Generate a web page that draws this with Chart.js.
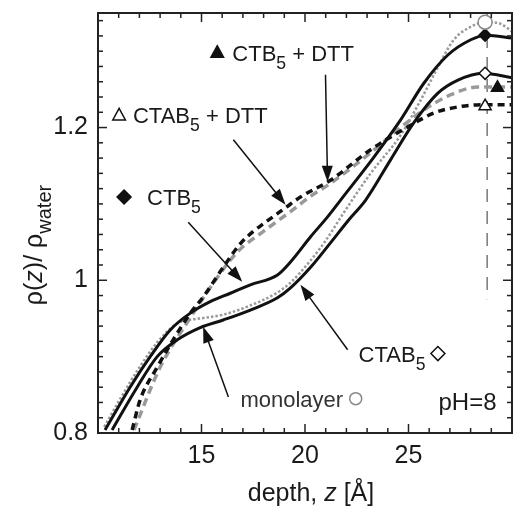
<!DOCTYPE html>
<html>
<head>
<meta charset="utf-8">
<script src="https://cdn.jsdelivr.net/npm/chart.js@4"></script>
<style>
html, body { margin: 0; padding: 0; background: #fff; }
</style>
</head>
<body>
<canvas id="grafico" width="513" height="511"></canvas>
<script>
const ctx = document.getElementById('grafico');

// perfis de densidade: z em Å, rho / rho_water
const zCTB5 = [10.34, 11.55, 12.52, 13.49, 14.46, 15.42, 16.39, 17.36, 18.67, 19.30, 20.27, 21.09, 21.72, 23.32, 24.62, 25.74, 26.90, 28.01, 28.74, 30.05];
const rhoCTB5 = [0.804, 0.860, 0.900, 0.935, 0.957, 0.972, 0.983, 0.994, 1.007, 1.024, 1.057, 1.083, 1.105, 1.161, 1.210, 1.258, 1.295, 1.315, 1.321, 1.317];

const zCTAB5 = [10.68, 11.89, 12.86, 13.83, 14.94, 16.05, 17.36, 18.67, 19.30, 20.27, 21.23, 22.11, 22.93, 24.14, 25.25, 26.42, 27.39, 28.60, 30.05];
const rhoCTAB5 = [0.804, 0.860, 0.900, 0.922, 0.938, 0.948, 0.961, 0.977, 0.990, 1.017, 1.049, 1.079, 1.105, 1.158, 1.206, 1.245, 1.262, 1.271, 1.265];

const zMono = [10.30, 11.10, 12.00, 12.90, 13.80, 14.40, 15.20, 16.05, 17.36, 18.67, 19.30, 20.27, 21.00, 21.86, 23.17, 24.62, 25.59, 26.42, 27.19, 28.01, 28.69, 29.32, 30.05];
const rhoMono = [0.808, 0.846, 0.886, 0.920, 0.943, 0.948, 0.951, 0.955, 0.967, 0.984, 0.997, 1.026, 1.052, 1.088, 1.140, 1.190, 1.236, 1.279, 1.315, 1.332, 1.338, 1.337, 1.325];

const zCTB5DTT = [11.74, 13.00, 14.46, 15.67, 16.73, 17.99, 19.30, 20.27, 21.23, 23.17, 24.48, 25.74, 27.05, 28.35, 29.95];
const rhoCTB5DTT = [0.804, 0.886, 0.951, 1.000, 1.037, 1.064, 1.090, 1.110, 1.127, 1.167, 1.197, 1.223, 1.243, 1.253, 1.253];

const zCTAB5DTT = [11.65, 12.03, 12.86, 13.63, 14.46, 15.08, 16.05, 16.88, 17.50, 17.99, 19.06, 19.78, 21.23, 23.17, 25.11, 26.22, 27.39, 28.64, 30.05];
const rhoCTAB5DTT = [0.804, 0.843, 0.886, 0.922, 0.957, 0.978, 1.017, 1.048, 1.064, 1.074, 1.095, 1.109, 1.131, 1.171, 1.203, 1.219, 1.227, 1.230, 1.230];

// marcadores na superfície: CTB5, CTAB5, monocamada, CTB5+DTT, CTAB5+DTT
const zMarcador = [28.7, 28.7, 28.7, 29.3, 28.7];
const rhoMarcador = [1.321, 1.271, 1.338, 1.252, 1.228];

// linha tracejada vertical de referência
const zRef = [28.8, 28.8];
const rhoRef = [1.35, 0.975];

const ticksX = [15, 20, 25];
const ticksY = [0.8, 1, 1.2];

const fonte = '"Liberation Sans", Arial, sans-serif';

function pontos(zs, rhos) {
    return zs.map((z, i) => ({ x: z, y: rhos[i] }));
}

function marca(c, tipo, x, y, r, cheio, cor) {
    c.save();
    c.beginPath();
    if (tipo === 'tri') {
        c.moveTo(x, y - r);
        c.lineTo(x + r * 0.9, y + r * 0.65);
        c.lineTo(x - r * 0.9, y + r * 0.65);
        c.closePath();
    } else if (tipo === 'dia') {
        c.moveTo(x, y - r); c.lineTo(x + r, y); c.lineTo(x, y + r); c.lineTo(x - r, y);
        c.closePath();
    } else {
        c.arc(x, y, r, 0, Math.PI * 2);
    }
    c.fillStyle = cheio ? cor : '#fff';
    c.strokeStyle = cor;
    c.lineWidth = 1.5;
    c.fill();
    c.stroke();
    c.restore();
}

function seta(c, x0, y0, x1, y1) {
    const ang = Math.atan2(y1 - y0, x1 - x0), L = 16, W = 5.5;
    const cs = Math.cos(ang), sn = Math.sin(ang);
    c.beginPath();
    c.moveTo(x0, y0);
    c.lineTo(x1 - L * 0.7 * cs, y1 - L * 0.7 * sn);
    c.stroke();
    c.beginPath();
    c.moveTo(x1, y1);
    c.lineTo(x1 - L * cs + W * sn, y1 - L * sn - W * cs);
    c.lineTo(x1 - L * cs - W * sn, y1 - L * sn + W * cs);
    c.closePath();
    c.fill();
}

// partes: [texto, 'sub' | 'it' | undefined]
function larguraPartes(c, partes, tam) {
    let w = 0;
    partes.forEach(p => {
        c.font = (p[1] === 'it' ? 'italic ' : '') + (p[1] === 'sub' ? tam * 0.8 : tam) + 'px ' + fonte;
        w += c.measureText(p[0]).width;
    });
    return w;
}

function escrever(c, partes, x, y, tam) {
    c.textBaseline = 'alphabetic';
    c.textAlign = 'left';
    partes.forEach(p => {
        const sub = p[1] === 'sub';
        c.font = (p[1] === 'it' ? 'italic ' : '') + (sub ? tam * 0.8 : tam) + 'px ' + fonte;
        c.fillText(p[0], x, y + (sub ? tam * 0.36 : 0));
        x += c.measureText(p[0]).width;
    });
    return x;
}

const rotulos = [
    { z: 16.49, rho: 1.298, partes: [['CTB'], ['5', 'sub'], [' + DTT']], m: ['tri', 15.76, true] },
    { z: 11.69, rho: 1.216, partes: [['CTAB'], ['5', 'sub'], [' + DTT']], m: ['tri', 11.02, false] },
    { z: 12.37, rho: 1.109, partes: [['CTB'], ['5', 'sub']], m: ['dia', 11.26, true] },
    { z: 22.59, rho: 0.904, partes: [['CTAB'], ['5', 'sub']], m: ['dia', 26.42, false] },
    { z: 16.88, rho: 0.845, partes: [['monolayer']], m: ['circ', 22.45, false], cor: '#333' },
    { z: 26.45, rho: 0.840, partes: [['pH=8']], tam: 24 }
];

const setas = [
    [20.99, 1.269, 21.09, 1.129],
    [16.54, 1.184, 19.06, 1.099],
    [14.36, 1.076, 16.97, 0.998],
    [16.30, 0.847, 15.08, 0.939],
    [22.06, 0.909, 19.78, 0.994]
];

const desenho = {
    id: 'desenho',
    afterDraw(chart) {
        const c = chart.ctx, a = chart.chartArea, sx = chart.scales.x, sy = chart.scales.y;
        c.save();
        c.strokeStyle = '#222';
        c.fillStyle = '#222';
        c.lineWidth = 1.5;
        const risco = (x0, y0, x1, y1) => { c.beginPath(); c.moveTo(x0, y0); c.lineTo(x1, y1); c.stroke(); };
        for (let z = 10; z <= 30; z++) {
            const px = sx.getPixelForValue(z), l = z % 5 === 0 ? 9 : 5;
            risco(px, a.bottom, px, a.bottom - l);
            risco(px, a.top, px, a.top + l);
        }
        for (let i = 0; i <= 27; i++) {
            const py = sy.getPixelForValue(0.8 + i * 0.02), l = i % 10 === 0 ? 9 : 5;
            risco(a.left, py, a.left + l, py);
            risco(a.right, py, a.right - l, py);
        }
        c.lineWidth = 2;
        c.strokeRect(a.left, a.top, a.right - a.left, a.bottom - a.top);

        // setas
        c.lineWidth = 1.5;
        c.strokeStyle = '#111';
        c.fillStyle = '#111';
        setas.forEach(s => seta(c, sx.getPixelForValue(s[0]), sy.getPixelForValue(s[1]), sx.getPixelForValue(s[2]), sy.getPixelForValue(s[3])));

        // rótulos
        rotulos.forEach(r => {
            const px = sx.getPixelForValue(r.z), py = sy.getPixelForValue(r.rho);
            c.fillStyle = r.cor || '#1a1a1a';
            escrever(c, r.partes, px, py + 8, r.tam || 22);
            if (r.m) {
                const mx = sx.getPixelForValue(r.m[1]);
                const cor = r.m[0] === 'circ' ? '#888' : '#111';
                marca(c, r.m[0], mx, py, r.m[0] === 'circ' ? 6 : 7, r.m[2], cor);
            }
        });

        // títulos dos eixos
        c.fillStyle = '#1a1a1a';
        const tx = [['depth, '], ['z', 'it'], [' [Å]']];
        const wx = larguraPartes(c, tx, 25);
        escrever(c, tx, (a.left + a.right) / 2 + 6 - wx / 2, 501, 25);

        const ty = [['ρ('], ['z', 'it'], [')/ ρ'], ['water', 'sub']];
        const wy = larguraPartes(c, ty, 25);
        c.translate(33, 245);
        c.rotate(-Math.PI / 2);
        escrever(c, ty, -wy / 2, 9, 25);
        c.restore();
    }
};

function semPadding(s) {
    s.paddingLeft = 0; s.paddingRight = 0; s.paddingTop = 0; s.paddingBottom = 0;
}

new Chart(ctx, {
    type: 'scatter',
    data: {
        datasets: [
            {
                label: 'marcadores',
                data: pontos(zMarcador, rhoMarcador),
                pointStyle: ['rectRot', 'rectRot', 'circle', 'triangle', 'triangle'],
                pointRadius: [6, 6, 7, 7, 7],
                backgroundColor: ['#111', '#fff', '#fff', '#111', '#fff'],
                borderColor: ['#111', '#111', '#888', '#111', '#111'],
                borderWidth: 1.5
            },
            {
                label: 'CTB5',
                data: pontos(zCTB5, rhoCTB5),
                showLine: true, borderColor: '#111', borderWidth: 3, pointRadius: 0,
                cubicInterpolationMode: 'monotone'
            },
            {
                label: 'CTAB5',
                data: pontos(zCTAB5, rhoCTAB5),
                showLine: true, borderColor: '#111', borderWidth: 3, pointRadius: 0,
                cubicInterpolationMode: 'monotone'
            },
            {
                label: 'CTAB5 + DTT',
                data: pontos(zCTAB5DTT, rhoCTAB5DTT),
                showLine: true, borderColor: '#111', borderWidth: 3.5, borderDash: [7, 5], pointRadius: 0,
                cubicInterpolationMode: 'monotone'
            },
            {
                label: 'monolayer',
                data: pontos(zMono, rhoMono),
                showLine: true, borderColor: '#9a9a9a', borderWidth: 2.5, borderDash: [2.5, 2], pointRadius: 0,
                cubicInterpolationMode: 'monotone'
            },
            {
                label: 'CTB5 + DTT',
                data: pontos(zCTB5DTT, rhoCTB5DTT),
                showLine: true, borderColor: '#999', borderWidth: 3.5, borderDash: [8, 5], pointRadius: 0,
                cubicInterpolationMode: 'monotone'
            },
            {
                label: 'ref',
                data: pontos(zRef, rhoRef),
                showLine: true, borderColor: '#777', borderWidth: 1.5, borderDash: [13, 9], pointRadius: 0
            }
        ]
    },
    options: {
        responsive: false,
        animation: false,
        layout: { autoPadding: false, padding: { top: 13, right: 1, left: 0, bottom: 0 } },
        plugins: { legend: { display: false }, tooltip: { enabled: false } },
        scales: {
            x: {
                type: 'linear', min: 10, max: 30,
                grid: { display: false, drawTicks: false },
                border: { display: false },
                ticks: {
                    stepSize: 5, padding: 8, color: '#1a1a1a',
                    font: { family: fonte, size: 25 },
                    callback: v => ticksX.includes(v) ? String(v) : ''
                },
                afterFit: s => { s.height = 78; semPadding(s); }
            },
            y: {
                type: 'linear', min: 0.8, max: 1.35,
                grid: { display: false, drawTicks: false },
                border: { display: false },
                ticks: {
                    stepSize: 0.2, includeBounds: false, padding: 10, color: '#1a1a1a',
                    font: { family: fonte, size: 25 },
                    callback: v => {
                        const t = ticksY.find(k => Math.abs(k - v) < 1e-6);
                        return t === undefined ? '' : String(t);
                    }
                },
                afterFit: s => { s.width = 98; semPadding(s); }
            }
        }
    },
    plugins: [desenho]
});
</script>
</body>
</html>
